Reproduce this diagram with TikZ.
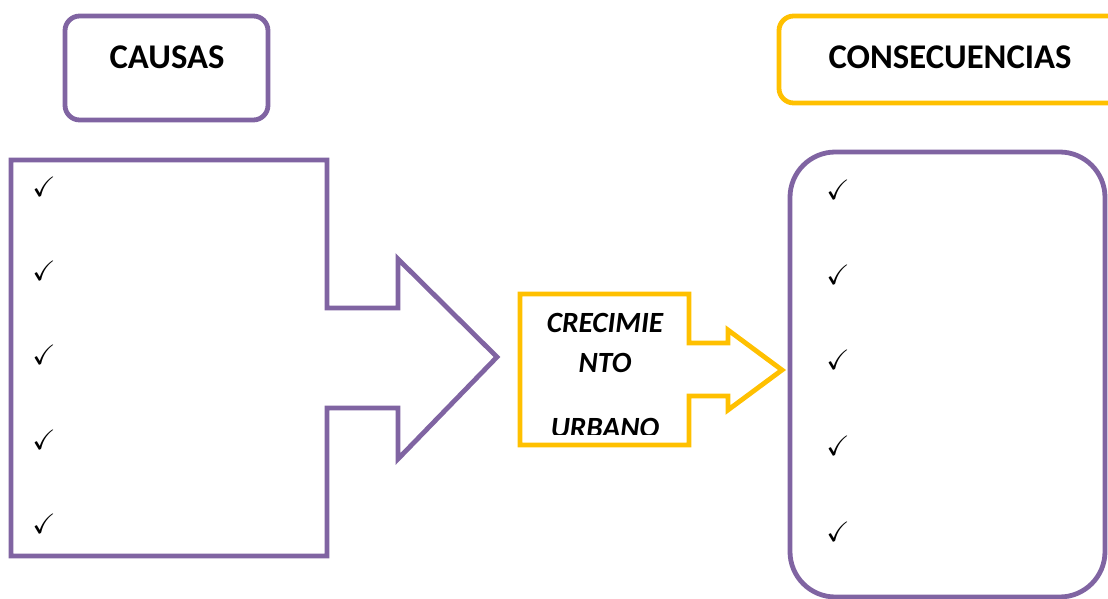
\documentclass[tikz,border=0pt]{standalone}
\usepackage{amssymb}
\usepackage{fontspec}
\setmainfont{Carlito}
\definecolor{lila}{HTML}{8064A2}
\definecolor{ambar}{HTML}{FFC000}
\tikzset{
	linea/.style={line width=3.6pt, line join=miter},
	titulo/.style={font=\fontsize{26}{30}\selectfont\bfseries, inner sep=0pt},
	centro/.style={font=\fontsize{22}{26}\selectfont\bfseries\itshape, inner sep=0pt},
	marca/.style={font=\fontsize{21}{24}\selectfont, inner sep=0pt},
}
\begin{document}
\begin{tikzpicture}[x=0.75pt,y=-0.75pt]
	\useasboundingbox (0,0) rectangle (1108,599);
	\clip (0,0) rectangle (1108,599);
	% Titles
	\draw [linea, lila, rounded corners=11pt] (65,16) rectangle (268,120);
	\node [titulo] (causas) at (167,57) {CAUSAS};
	\draw [linea, ambar, rounded corners=11pt] (779,16) rectangle (1125,103);
	\node [titulo] (consecuencias) at (950,57) {CONSECUENCIAS};
	% Causes arrow
	\draw [linea, lila] (11,160) -- (327,160) -- (327,308) -- (398,308) -- (398,259)
		-- (497,357) -- (398,459) -- (398,408) -- (327,408) -- (327,556) -- (11,556) -- cycle;
	\foreach \y [count=\i] in {187,271,355,440,524} {
		\node [marca] (causa\i) at (44,\y) {$\checkmark$};
	}
	% Consequences box
	\draw [linea, lila, rounded corners=34pt] (790,152) rectangle (1105,597);
	\foreach \y [count=\i] in {190,275,360,446,532} {
		\node [marca] (cons\i) at (838,\y) {$\checkmark$};
	}
	% Middle arrow
	\draw [linea, ambar] (520,294) -- (689,294) -- (689,343) -- (728,343) -- (728,330)
		-- (782,370) -- (728,410) -- (728,396) -- (689,396) -- (689,445) -- (520,445) -- cycle;
	\node [centro] (crec1) at (605,323) {CRECIMIE};
	\node [centro] (crec2) at (605,363) {NTO};
	\begin{scope}
		\clip (522,296) rectangle (687,434);
		\node [centro] (crec3) at (605,428) {URBANO};
	\end{scope}
\end{tikzpicture}
\end{document}
